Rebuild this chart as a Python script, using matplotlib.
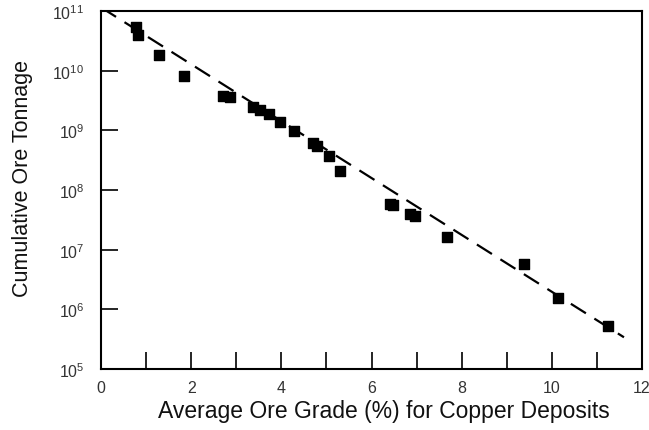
import matplotlib.pyplot as plt
import numpy as np

plt.rcParams['font.family'] = ['Liberation Sans', 'DejaVu Sans']
plt.rcParams['mathtext.fontset'] = 'custom'
plt.rcParams['mathtext.rm'] = 'Liberation Sans'
plt.rcParams['mathtext.default'] = 'regular'

# grade (%) vs cumulative tonnage
grade = [0.78, 0.82, 1.29, 1.84, 2.70, 2.86, 3.37, 3.53, 3.72, 3.97, 4.28,
         4.70, 4.79, 5.06, 5.30, 6.41, 6.48, 6.85, 6.96, 7.67, 9.38, 10.13, 11.24]
tonnage = [5.3e10, 4.0e10, 1.8e10, 8.0e9, 3.8e9, 3.6e9, 2.5e9, 2.2e9, 1.9e9,
           1.4e9, 9.8e8, 6.2e8, 5.4e8, 3.7e8, 2.1e8, 5.8e7, 5.5e7, 4.0e7,
           3.7e7, 1.6e7, 5.8e6, 1.55e6, 5.3e5]

# dashed trend line end points
fit_x = [0.0, 11.6]
fit_y = [1.15e11, 3.4e5]

fig = plt.figure(figsize=(6.49, 4.31), dpi=100)
ax = fig.add_axes([101 / 649, 61 / 431, 541 / 649, 358 / 431])

ax.plot(fit_x, fit_y, color='black', linestyle=(0, (8, 4.5)), linewidth=1.6)
ax.scatter(grade, tonnage, marker='s', s=60, color='black', zorder=3)

ax.set_yscale('log')
ax.set_xlim(0, 12)
ax.set_ylim(1e5, 1e11)

ax.set_xticks(np.arange(0, 13, 2))
ax.set_xticks(np.arange(1, 12, 2), minor=True)
ax.set_yticks([1e5, 1e6, 1e7, 1e8, 1e9, 1e10, 1e11])
ax.set_yticklabels(['$10^{%d}$' % e for e in range(5, 12)])
ax.yaxis.set_minor_locator(plt.NullLocator())

ax.tick_params(axis='both', which='both', direction='in', width=1.2,
               labelsize=11.5, colors='black', labelcolor='#333333')
ax.tick_params(axis='x', which='both', length=12, pad=8)
ax.tick_params(axis='y', which='major', length=12, pad=12)

for sp in ax.spines.values():
    sp.set_linewidth(1.5)

ax.set_xlabel('Average Ore Grade (%) for Copper Deposits', fontsize=16.5,
              color='#111111')
ax.xaxis.set_label_coords(0.523, -0.083)
ax.set_ylabel('Cumulative Ore Tonnage', fontsize=15.5, color='#111111')
ax.yaxis.set_label_coords(-0.125, 0.535)

fig.savefig('out.png', dpi=100)
